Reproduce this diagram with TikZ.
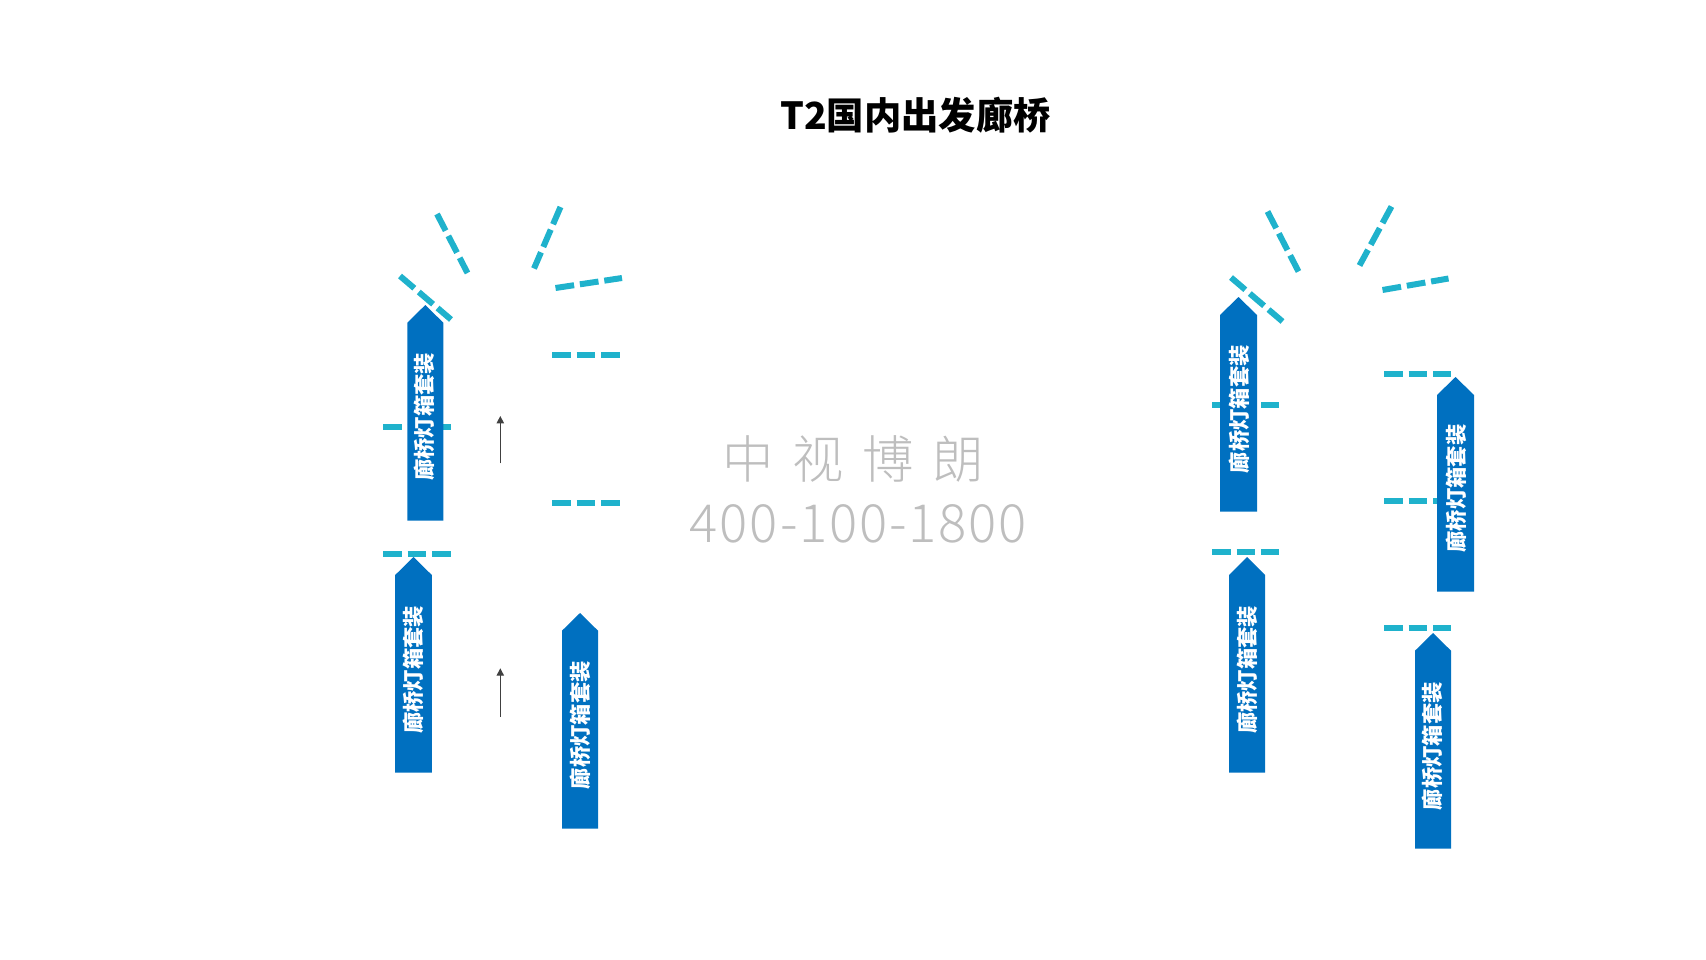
\documentclass[tikz,border=0pt]{standalone}
\usepackage{fontspec}
\usetikzlibrary{arrows.meta}
\newfontfamily\cjkfont{Noto Sans CJK SC}
\newfontfamily\markfont[LetterSpace=3.5]{Noto Sans CJK SC Light}
\definecolor{lampblue}{RGB}{0,112,192}
\definecolor{gatecyan}{RGB}{31,178,204}
\definecolor{markgray}{RGB}{190,190,190}
\tikzset{
        lampbox/.style={fill=lampblue,draw=none},
        lamptext/.style={rotate=90,text=white,inner sep=0.75pt,font=\cjkfont\fontsize{16}{16}\selectfont\bfseries},
        gateline/.style={draw=gatecyan,line width=4.5pt,dash pattern={on 14.1pt off 4.4pt}},
        flowline/.style={draw=black!75,line width=0.9pt,-{Triangle[length=5.5pt,width=5.5pt]}},
        marktext/.style={text=markgray,inner sep=0pt,font=\markfont}
}
\begin{document}
\begin{tikzpicture}[x=0.75pt,y=0.75pt,yscale=-1,xscale=1]
        \useasboundingbox (0,0) rectangle (1706,960);

        %Gate lines, left bridge
        \draw [gateline]    (400,276) -- (451,319.5) ;
        \draw [gateline]    (437,214) -- (467.5,273) ;
        \draw [gateline]    (560.5,207) -- (534,268.5) ;
        \draw [gateline]    (555.5,288) -- (622,278) ;
        \draw [gateline]    (552,355) -- (620,355) ;
        \draw [gateline]    (552,503) -- (620,503) ;
        \draw [gateline]    (383,427) -- (451,427) ;
        \draw [gateline]    (383,553.7) -- (451,553.7) ;
        %Gate lines, right bridge
        \draw [gateline]    (1231,277.5) -- (1282.5,321.5) ;
        \draw [gateline]    (1267.5,211.5) -- (1298.5,271.5) ;
        \draw [gateline]    (1391.5,206.5) -- (1359.5,265.5) ;
        \draw [gateline]    (1382.5,290) -- (1448.5,278.5) ;
        \draw [gateline]    (1384,374) -- (1451,374) ;
        \draw [gateline]    (1384,501) -- (1451,501) ;
        \draw [gateline]    (1212,405) -- (1279,405) ;
        \draw [gateline]    (1212,552) -- (1279,552) ;
        \draw [gateline]    (1384,628) -- (1451,628) ;

        %Lamp boxes
        \draw [lampbox]    (425.3,305) -- (443.3,322.7) -- (443.3,520.7) -- (407.3,520.7) -- (407.3,322.7) -- cycle ;
        \draw [lampbox]    (413.5,557) -- (431.8,575) -- (431.8,772.7) -- (395.2,772.7) -- (395.2,575) -- cycle ;
        \draw [lampbox]    (580,613) -- (598,630.7) -- (598,828.7) -- (562,828.7) -- (562,630.7) -- cycle ;
        \draw [lampbox]    (1238.5,297) -- (1257,315) -- (1257,511.7) -- (1220,511.7) -- (1220,315) -- cycle ;
        \draw [lampbox]    (1455.5,377) -- (1474,395) -- (1474,591.7) -- (1437,591.7) -- (1437,395) -- cycle ;
        \draw [lampbox]    (1247,557) -- (1265,575) -- (1265,772.7) -- (1229,772.7) -- (1229,575) -- cycle ;
        \draw [lampbox]    (1433,633) -- (1451,650.7) -- (1451,848.7) -- (1415,848.7) -- (1415,650.7) -- cycle ;

        % Text Node
        \node (lampA) at (424,416.7) [lamptext] {廊桥灯箱套装};
        \node (lampB) at (413,669.7) [lamptext] {廊桥灯箱套装};
        \node (lampC) at (580,725.3) [lamptext] {廊桥灯箱套装};
        \node (lampD) at (1239,409) [lamptext] {廊桥灯箱套装};
        \node (lampE) at (1456,488.5) [lamptext] {廊桥灯箱套装};
        \node (lampF) at (1247,669.7) [lamptext] {廊桥灯箱套装};
        \node (lampG) at (1432,746) [lamptext] {廊桥灯箱套装};

        %Flow arrows
        \coordinate (flowAtail) at (500.3,463.3);
        \coordinate (flowAtip) at (500.3,416);
        \coordinate (flowBtail) at (500.3,716.7);
        \coordinate (flowBtip) at (500.3,668.3);
        \draw [flowline]    (flowAtail) -- (flowAtip) ;
        \draw [flowline]    (flowBtail) -- (flowBtip) ;

        % Text Node
        \node (title) at (915.5,115) [inner sep=0pt,font=\cjkfont\fontsize{28}{28}\selectfont\bfseries] {T2国内出发廊桥};
        \node (markname) at (853,459) [marktext,font=\markfont\fontsize{38.5}{38.5}\selectfont] {中\hspace{14pt}视\hspace{14pt}博\hspace{14pt}朗};
        \node (markphone) at (858.5,524) [marktext,font=\markfont\fontsize{39.5}{39.5}\selectfont] {400-100-1800};
\end{tikzpicture}
\end{document}
